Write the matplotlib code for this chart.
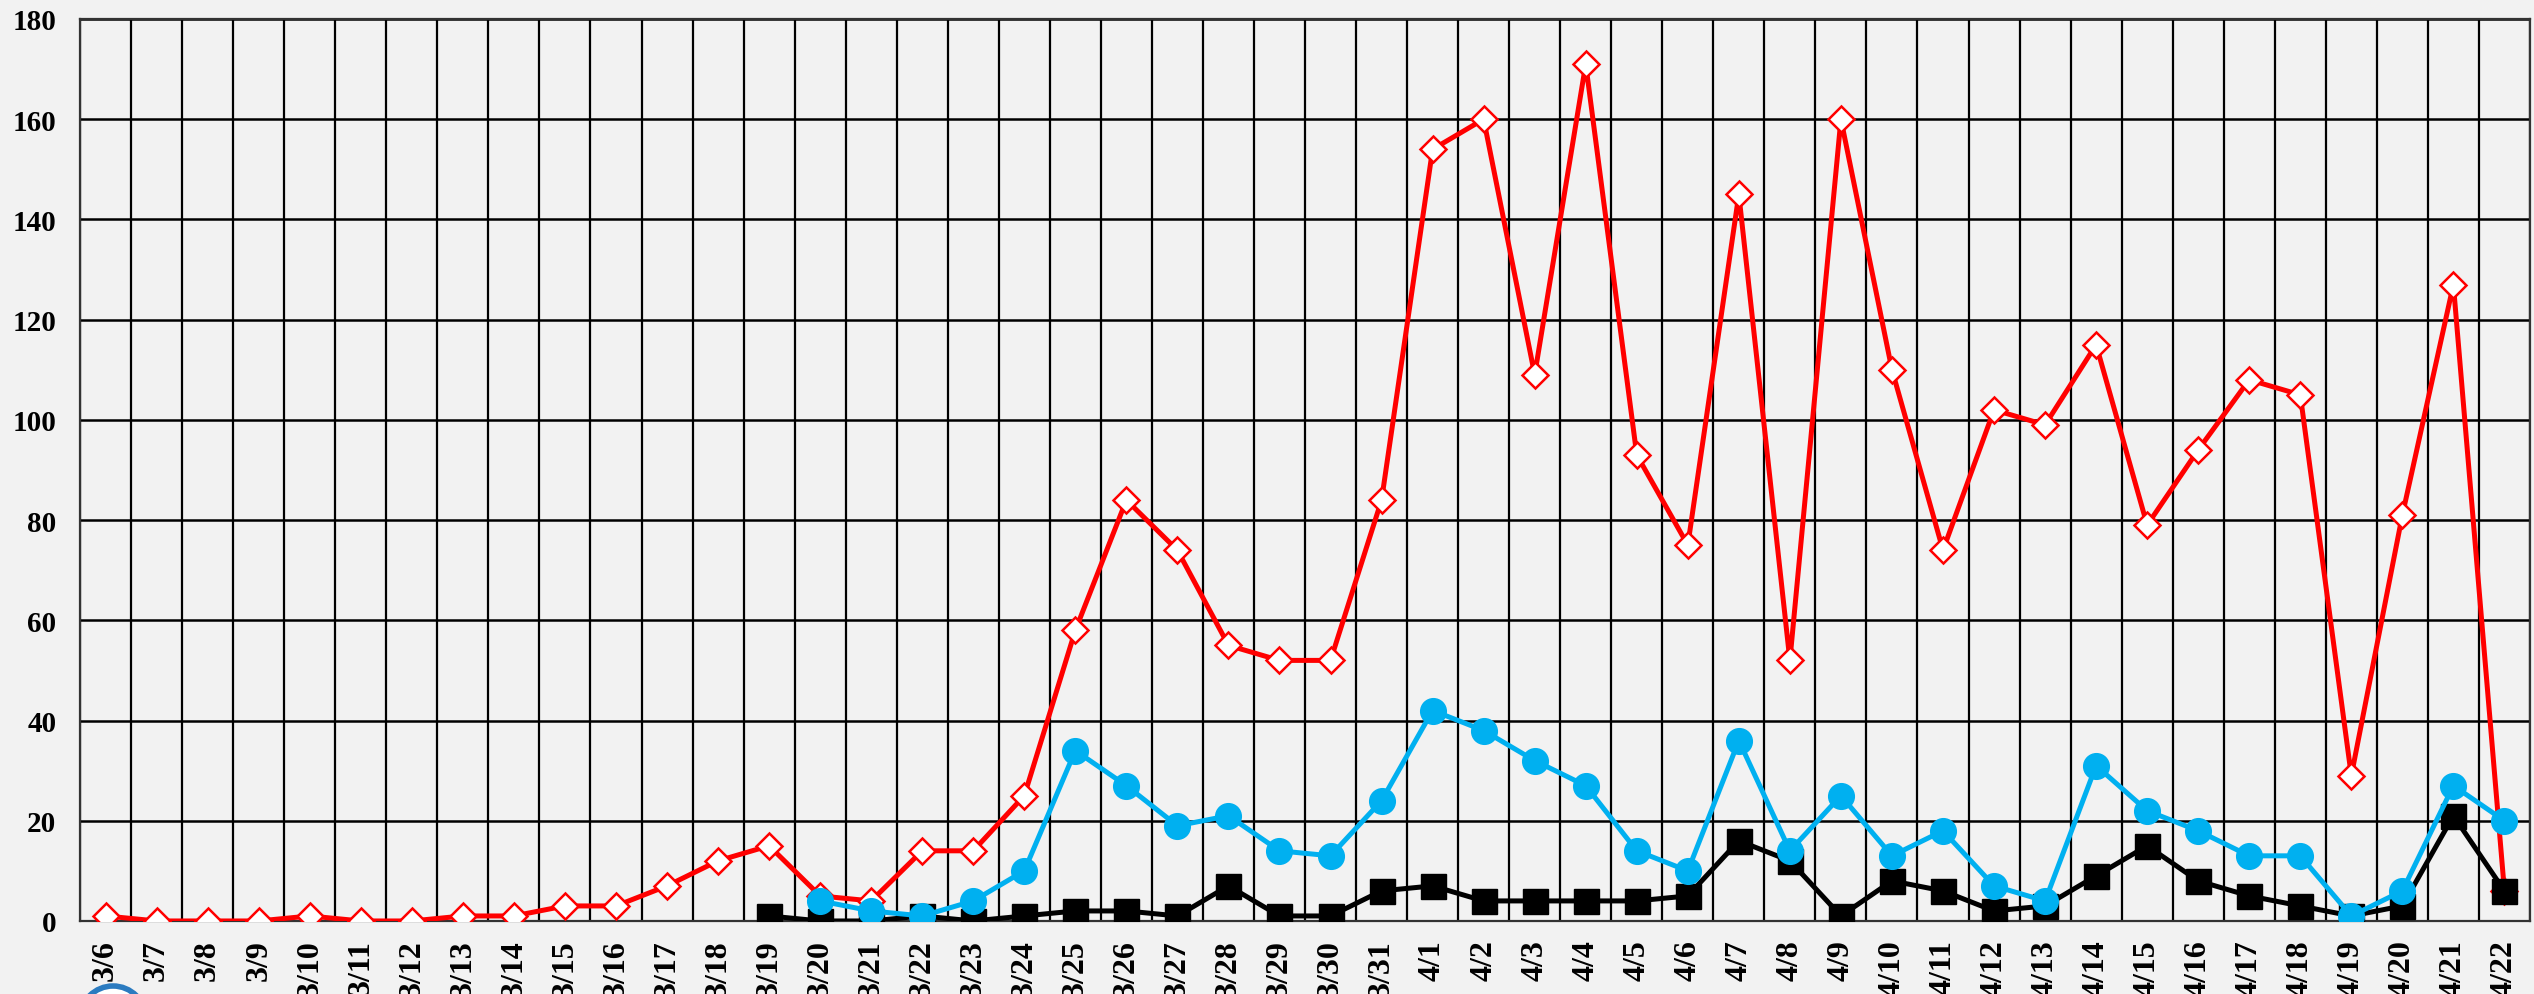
import numpy as np
import matplotlib
matplotlib.use("Agg")
import matplotlib.pyplot as plt
from matplotlib.patches import Circle

plt.rcParams['font.family'] = ['Liberation Serif', 'DejaVu Serif']
plt.rcParams['font.weight'] = 'bold'

# dates on the x axis
days = ["3/6", "3/7", "3/8", "3/9", "3/10", "3/11", "3/12", "3/13", "3/14", "3/15",
        "3/16", "3/17", "3/18", "3/19", "3/20", "3/21", "3/22", "3/23", "3/24", "3/25",
        "3/26", "3/27", "3/28", "3/29", "3/30", "3/31", "4/1", "4/2", "4/3", "4/4",
        "4/5", "4/6", "4/7", "4/8", "4/9", "4/10", "4/11", "4/12", "4/13", "4/14",
        "4/15", "4/16", "4/17", "4/18", "4/19", "4/20", "4/21", "4/22"]

# red diamonds - full period
red_vals = [1, 0, 0, 0, 1, 0, 0, 1, 1, 3,
            3, 7, 12, 15, 5, 4, 14, 14, 25, 58,
            84, 74, 55, 52, 52, 84, 154, 160, 109, 171,
            93, 75, 145, 52, 160, 110, 74, 102, 99, 115,
            79, 94, 108, 105, 29, 81, 127, 6]

# black squares - start on 3/19
black_start = 13
black_vals = [1, 0, 0, 1, 0, 1, 2, 2, 1, 7,
              1, 1, 6, 7, 4, 4, 4, 4, 5, 16,
              12, 1, 8, 6, 2, 3, 9, 15, 8, 5,
              3, 1, 3, 21, 6]

# blue circles - start on 3/20
blue_start = 14
blue_vals = [4, 2, 1, 4, 10, 34, 27, 19, 21, 14,
             13, 24, 42, 38, 32, 27, 14, 10, 36, 14,
             25, 13, 18, 7, 4, 31, 22, 18, 13, 13,
             1, 6, 27, 20]

x = np.arange(len(days))
x_black = x[black_start:black_start + len(black_vals)]
x_blue = x[blue_start:blue_start + len(blue_vals)]

bg = '#f2f2f2'
fig = plt.figure(figsize=(25.34, 9.95), dpi=100, facecolor=bg)
ax = fig.add_axes([0.0316, 0.0734, 0.9668, 0.9065])
ax.set_facecolor(bg)

ax.plot(x, red_vals, color='#ff0000', lw=3.6, marker='D', ms=13,
        mfc='white', mec='#ff0000', mew=1.8, zorder=3)
ax.plot(x_black, black_vals, color='black', lw=3.6, marker='s', ms=18,
        mfc='black', mec='black', zorder=4)
ax.plot(x_blue, blue_vals, color='#00b0f0', lw=3.6, marker='o', ms=18.5,
        mfc='#00b0f0', mec='#00b0f0', zorder=5)

ax.set_xlim(-0.5, len(days) - 0.5)
ax.set_ylim(0, 180)
ax.set_yticks(np.arange(0, 181, 20))
ax.set_xticks(x)
ax.set_xticklabels(days, rotation=90, fontsize=23, fontweight='bold')
ax.set_xticks(np.arange(-0.5, len(days), 1), minor=True)
for lab in ax.get_yticklabels():
    lab.set_fontsize(21)
    lab.set_fontweight('bold')

ax.set_axisbelow(True)
ax.grid(which='minor', axis='x', color='black', lw=1.6)
ax.grid(which='major', axis='y', color='black', lw=1.8)
ax.tick_params(axis='both', which='both', length=0)
ax.tick_params(axis='x', pad=13)
ax.tick_params(axis='y', pad=17)
for s in ax.spines.values():
    s.set_color('#333333')
    s.set_linewidth(1.6)

# logo fragment at the bottom left corner
logo = Circle((1.13, -0.25), 0.33, transform=fig.dpi_scale_trans,
              facecolor='white', edgecolor='#2b7bc0', lw=4, clip_on=False)
fig.patches.append(logo)

fig.savefig("out.png", dpi=100, facecolor=bg)
